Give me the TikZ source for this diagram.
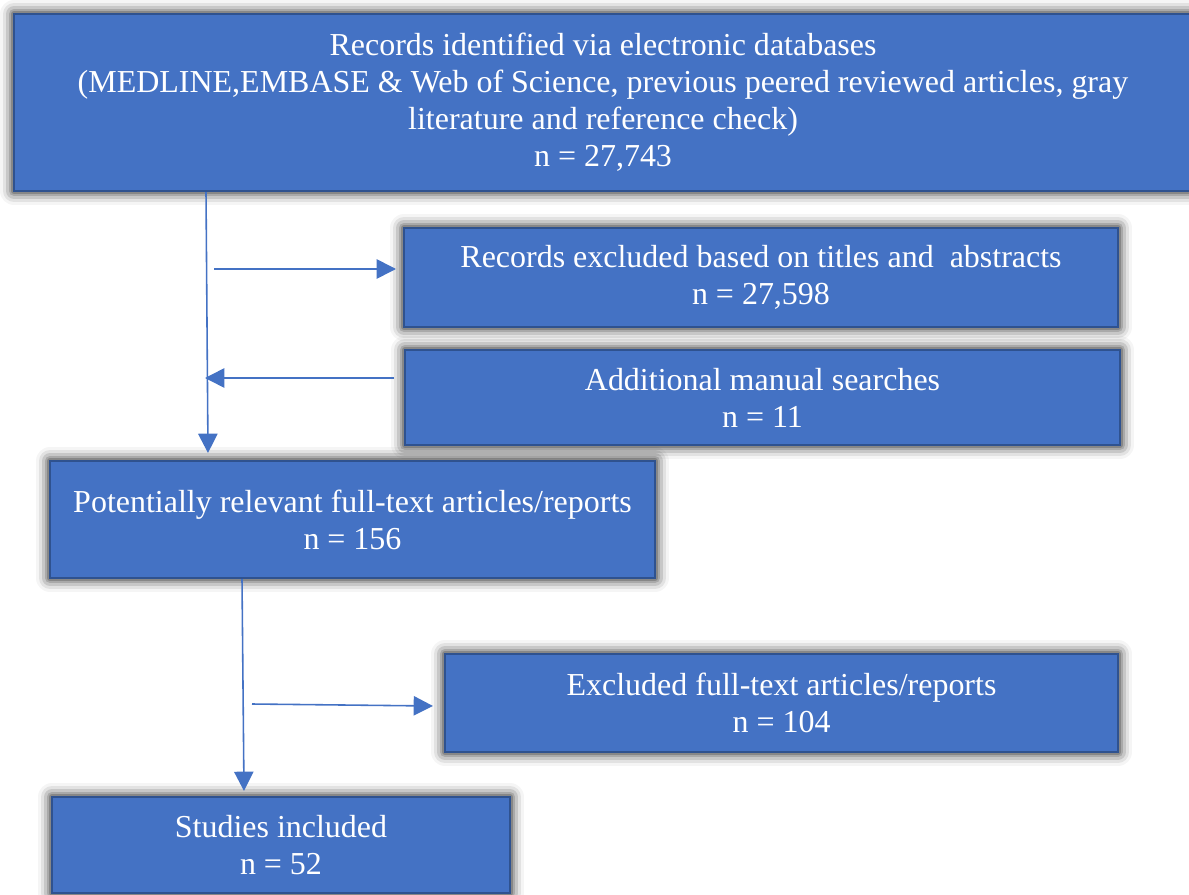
\documentclass[tikz,border=0pt]{standalone}
\usepackage{fontspec}
\setmainfont{Liberation Serif}
\usetikzlibrary{arrows.meta}

\definecolor{boxfill}{HTML}{4472C4}
\definecolor{boxline}{HTML}{2F528F}

\begin{document}
\begin{tikzpicture}[x = .02cm, y = -.02cm,
  flowbox/.style = {
    draw = boxline, fill = boxfill, line width = 1.2pt,
    text = white, align = center, inner sep = 0,
    font = \fontsize{18.2}{21}\selectfont,
    preaction = {draw = black, line join = round, line width = 16pt, opacity = .04},
    preaction = {draw = black, line join = round, line width = 12.5pt, opacity = .08},
    preaction = {draw = black, line join = round, line width = 9pt, opacity = .12},
    preaction = {draw = black, line join = round, line width = 6pt, opacity = .15},
    preaction = {draw = black, line join = round, line width = 3.5pt, opacity = .2}},
  flowarrow/.style = {
    draw = boxfill, line width = .9pt,
    -{Triangle[length = 11pt, width = 11pt]}}]

  \useasboundingbox (0, 0) rectangle (1189, 895);
  \clip (0, 0) rectangle (1189, 895);

  \node[flowbox, minimum width = 23.56cm, minimum height = 3.54cm]
  (records) at (603, 102.5) {Records identified via electronic databases\\
    (MEDLINE,EMBASE \& Web of Science, previous peered reviewed articles, gray\\
    literature and reference check)\\
    n = 27,743};
  \node[flowbox, minimum width = 14.28cm, minimum height = 1.98cm]
  (excluded) at (761, 277.5) {Records excluded based on titles and\ \ abstracts\\
    n = 27,598};
  \node[flowbox, minimum width = 14.3cm, minimum height = 1.9cm]
  (manual) at (762.5, 397.5) {Additional manual searches\\ n = 11};
  \node[flowbox, minimum width = 12.1cm, minimum height = 2.34cm]
  (fulltext) at (352.5, 519.5) {Potentially relevant full-text articles/reports\\
    n = 156};
  \node[flowbox, minimum width = 13.46cm, minimum height = 1.96cm]
  (ftexcluded) at (781.5, 703) {Excluded full-text articles/reports\\ n = 104};
  \node[flowbox, minimum width = 9.16cm, minimum height = 1.92cm]
  (included) at (281, 845) {Studies included\\ n = 52};

  \coordinate (A1) at (208, 453);
  \coordinate (A2) at (214, 269);
  \coordinate (A3) at (396, 269);
  \coordinate (A4) at (394, 378);
  \coordinate (A5) at (205, 378);
  \coordinate (A6) at (244, 791);
  \coordinate (A7) at (252, 704);
  \coordinate (A8) at (433, 706);

  \draw[flowarrow] (records.south -| 206, 0) -- (A1);
  \draw[flowarrow] (A2) -- (A3);
  \draw[flowarrow] (A4) -- (A5);
  \draw[flowarrow] (fulltext.south -| 242, 0) -- (A6);
  \draw[flowarrow] (A7) -- (A8);
\end{tikzpicture}
\end{document}
